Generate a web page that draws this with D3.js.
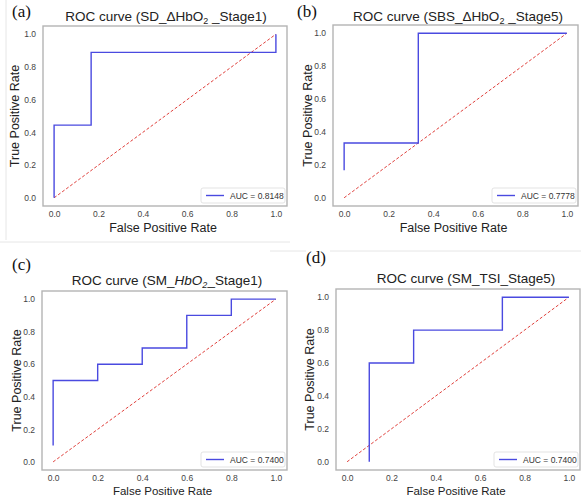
<!DOCTYPE html>
<html>
<head>
<meta charset="utf-8">
<script src="https://cdn.jsdelivr.net/npm/d3@7"></script>
<style>
  body { margin: 0; background: #fff; }
  svg { display: block; font-family: "Liberation Sans", Arial, sans-serif; }
</style>
</head>
<body>
<svg width="581" height="502"></svg>
<script>
// ROC points
var fprA = [0, 0, 0.167, 0.167, 1, 1],
    tprA = [0, 0.444, 0.444, 0.889, 0.889, 1];
var fprB = [0, 0, 0.333, 0.333, 1],
    tprB = [0.167, 0.333, 0.333, 1, 1];
var fprC = [0, 0, 0.2, 0.2, 0.4, 0.4, 0.6, 0.6, 0.8, 0.8, 1],
    tprC = [0.1, 0.5, 0.5, 0.6, 0.6, 0.7, 0.7, 0.9, 0.9, 1, 1];
var fprD = [0.1, 0.1, 0.3, 0.3, 0.7, 0.7, 1],
    tprD = [0, 0.6, 0.6, 0.8, 0.8, 1, 1];

var aucLabels = ["AUC = 0.8148", "AUC = 0.7778", "AUC = 0.7400", "AUC = 0.7400"];
var panelLetters = ["(a)", "(b)", "(c)", "(d)"];
var tickValues = [0, 0.2, 0.4, 0.6, 0.8, 1.0];

var svg = d3.select("svg");

// faint screenshot borders
var faint = svg.append("g").attr("stroke", "#e6e6e6").attr("fill", "none");
faint.append("line").attr("x1", 6).attr("x2", 6).attr("y1", 0).attr("y2", 240);
faint.append("line").attr("x1", 0).attr("x2", 290).attr("y1", 242).attr("y2", 242);
faint.append("line").attr("x1", 270).attr("x2", 306).attr("y1", 251).attr("y2", 251);
faint.append("line").attr("x1", 330).attr("x2", 581).attr("y1", 251).attr("y2", 251);

// frame boxes and text spots, one per panel
var layout = [
  {x: 43, y: 26, w: 244, h: 180, titleX: 166, titleY: 21, letterX: 12, letterY: 17, xlabY: 232, xlabSize: 12.5, ylabX: 15},
  {x: 333, y: 25, w: 245, h: 181, titleX: 458, titleY: 21, letterX: 297, letterY: 17, xlabY: 232, xlabSize: 12.5, ylabX: 308},
  {x: 42, y: 291, w: 245, h: 179, titleX: 167, titleY: 285, letterX: 12, letterY: 270, xlabY: 495, xlabSize: 11.5, ylabX: 17},
  {x: 336, y: 289, w: 244, h: 181, titleX: 466, titleY: 283, letterX: 306, letterY: 263, xlabY: 495, xlabSize: 11.5, ylabX: 310}
];

var series = [[fprA, tprA], [fprB, tprB], [fprC, tprC], [fprD, tprD]];

function drawTitle(g, i, L) {
  var t = g.append("text")
    .attr("x", L.titleX).attr("y", L.titleY)
    .attr("text-anchor", "middle")
    .attr("font-size", 13.5).attr("fill", "#222");
  if (i == 0) {
    t.append("tspan").text("ROC curve (SD_\u0394HbO");
    t.append("tspan").attr("font-size", 9).attr("dy", 3).text("2");
    t.append("tspan").attr("dy", -3).text(" _Stage1)");
  } else if (i == 1) {
    t.append("tspan").text("ROC curve (SBS_\u0394HbO");
    t.append("tspan").attr("font-size", 9).attr("dy", 3).text("2");
    t.append("tspan").attr("dy", -3).text(" _Stage5)");
  } else if (i == 2) {
    t.append("tspan").text("ROC curve (SM_");
    t.append("tspan").attr("font-style", "italic").text("HbO");
    t.append("tspan").attr("font-style", "italic").attr("font-size", 9).attr("dy", 3).text("2");
    t.append("tspan").attr("dy", -3).text("_Stage1)");
  } else {
    t.text("ROC curve (SM_TSI_Stage5)");
  }
}

layout.forEach(function(L, i) {
  var g = svg.append("g");

  var x = d3.scaleLinear().domain([-0.05, 1.05]).range([L.x, L.x + L.w]);
  var y = d3.scaleLinear().domain([-0.05, 1.05]).range([L.y + L.h, L.y]);

  // diagonal
  g.append("line")
    .attr("x1", x(0)).attr("y1", y(0))
    .attr("x2", x(1)).attr("y2", y(1))
    .attr("stroke", "#e0403c").attr("stroke-width", 1)
    .attr("stroke-dasharray", "3,2");

  // roc curve
  var pts = series[i][0].map(function(v, k) { return [v, series[i][1][k]]; });
  g.append("path")
    .datum(pts)
    .attr("fill", "none")
    .attr("stroke", "#4a4ae0")
    .attr("stroke-width", 1.4)
    .attr("d", d3.line().x(function(d) { return x(d[0]); }).y(function(d) { return y(d[1]); }));

  // frame
  g.append("rect")
    .attr("x", L.x).attr("y", L.y).attr("width", L.w).attr("height", L.h)
    .attr("fill", "none").attr("stroke", "#b4b4b4").attr("stroke-width", 1.4);

  // axes, no tick marks
  var xa = g.append("g").attr("transform", "translate(0," + (L.y + L.h) + ")")
    .call(d3.axisBottom(x).tickValues(tickValues).tickSize(0).tickPadding(5).tickFormat(d3.format(".1f")));
  var ya = g.append("g").attr("transform", "translate(" + L.x + ",0)")
    .call(d3.axisLeft(y).tickValues(tickValues).tickSize(0).tickPadding(7).tickFormat(d3.format(".1f")));
  [xa, ya].forEach(function(a) {
    a.select(".domain").remove();
    a.selectAll("text").attr("font-size", 8.5).attr("fill", "#444")
      .attr("font-family", "Liberation Sans, Arial, sans-serif");
  });

  // axis labels
  g.append("text")
    .attr("x", L.x + L.w / 2 - 2).attr("y", L.xlabY)
    .attr("text-anchor", "middle").attr("font-size", L.xlabSize).attr("fill", "#222")
    .text("False Positive Rate");
  g.append("text")
    .attr("transform", "translate(" + (L.ylabX + 4) + "," + (L.y + L.h / 2) + ") rotate(-90)")
    .attr("text-anchor", "middle").attr("font-size", 12.5).attr("fill", "#222")
    .text("True Positive Rate");

  // legend
  var lw = 84, lh = 15;
  var lx = L.x + L.w - lw - 2, ly = L.y + L.h - lh - 3;
  g.append("rect")
    .attr("x", lx).attr("y", ly).attr("width", lw).attr("height", lh)
    .attr("rx", 2).attr("fill", "#fff").attr("stroke", "#dcdcdc").attr("stroke-width", 0.8);
  g.append("line")
    .attr("x1", lx + 5).attr("x2", lx + 23).attr("y1", ly + lh / 2).attr("y2", ly + lh / 2)
    .attr("stroke", "#4a4ae0").attr("stroke-width", 1.4);
  g.append("text")
    .attr("x", lx + 29).attr("y", ly + lh / 2 + 3)
    .attr("font-size", 8.5).attr("fill", "#333")
    .text(aucLabels[i]);

  drawTitle(g, i, L);

  g.append("text")
    .attr("x", L.letterX).attr("y", L.letterY)
    .attr("font-family", "Liberation Serif, Times New Roman, serif")
    .attr("font-size", 17).attr("fill", "#111")
    .text(panelLetters[i]);
});
</script>
</body>
</html>
